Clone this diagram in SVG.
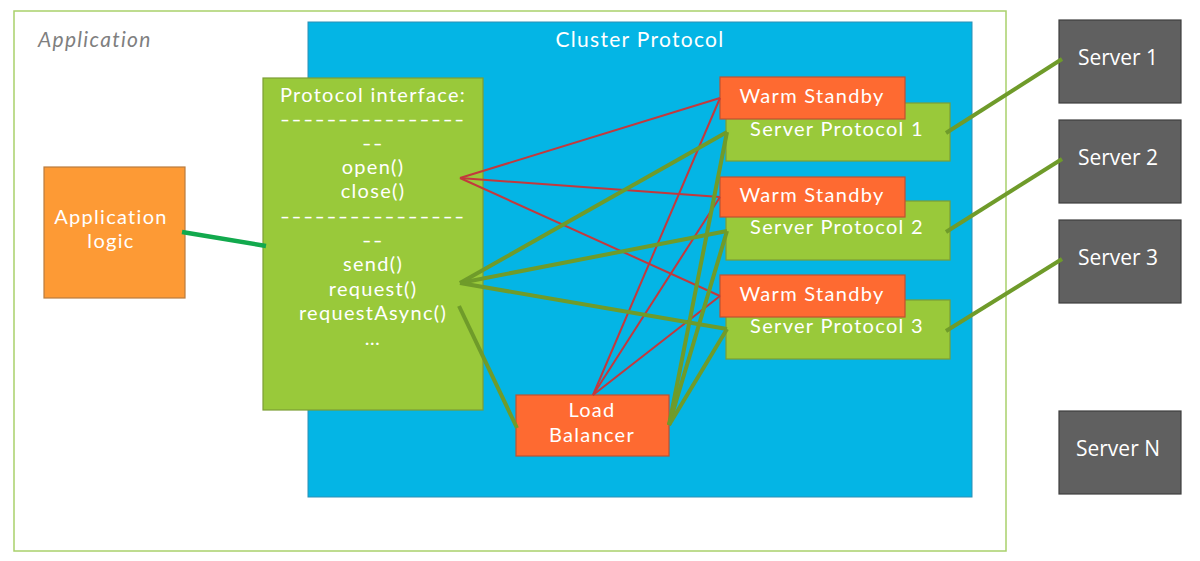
<svg xmlns="http://www.w3.org/2000/svg" width="1200" height="561" viewBox="0 0 1200 561">
<style>
text{font-family:Lato,"Open Sans","Liberation Sans",sans-serif;fill:#ffffff;font-size:20px;letter-spacing:1.3px;text-anchor:middle}
.srv{font-family:"Open Sans","Liberation Sans",sans-serif;font-size:21px;letter-spacing:0}
.app{fill:#ffffff;stroke:#a9d16b;stroke-width:1.5}
.cluster{fill:#04b5e5;stroke:#2c8fb5;stroke-width:1}
.green{fill:#99c93a;stroke:#7c9e35;stroke-width:1.2}
.orange{fill:#fe6a31;stroke:#bd5331;stroke-width:1.2}
.logic{fill:#fd9a35;stroke:#b97c3f;stroke-width:1.2}
.server{fill:#606060;stroke:#3f3f3f;stroke-width:1.2}
.red{stroke:#c3393d;stroke-width:2;fill:none}
.olive{stroke:#6f9b2a;stroke-width:4;fill:none}
</style>
<g id="application">
<rect class="app" x="14" y="11" width="992" height="540"/>
<text x="38" y="47" style="font-style:italic;fill:#7f7f7f;text-anchor:start;font-size:21px">Application</text>
</g>
<g id="cluster-protocol">
<rect class="cluster" x="308" y="22" width="664" height="475"/>
<text x="640" y="47" style="font-size:21px">Cluster Protocol</text>
</g>
<g id="application-logic">
<rect class="logic" x="44" y="167" width="141" height="131"/>
<text x="111" y="224">Application</text>
<text x="111" y="248">logic</text>
</g>
<g id="protocol-interface">
<rect class="green" x="263" y="78" width="220" height="332"/>
<text x="373" y="102">Protocol interface:</text>
<text x="373" y="126" textLength="186" lengthAdjust="spacingAndGlyphs">----------------</text>
<text x="373" y="150" textLength="22" lengthAdjust="spacingAndGlyphs">--</text>
<text x="373" y="174">open()</text>
<text x="373" y="198">close()</text>
<text x="373" y="223" textLength="186" lengthAdjust="spacingAndGlyphs">----------------</text>
<text x="373" y="247" textLength="22" lengthAdjust="spacingAndGlyphs">--</text>
<text x="373" y="271">send()</text>
<text x="373" y="296">request()</text>
<text x="373" y="320">requestAsync()</text>
<text x="373" y="345">…</text>
</g>
<g id="server-protocol-1">
<rect class="green" x="726" y="103" width="224" height="58"/>
<text x="837" y="136">Server Protocol 1</text>
</g>
<g id="server-protocol-2">
<rect class="green" x="726" y="201" width="224" height="59"/>
<text x="837" y="234">Server Protocol 2</text>
</g>
<g id="server-protocol-3">
<rect class="green" x="726" y="300" width="224" height="59"/>
<text x="837" y="333">Server Protocol 3</text>
</g>
<g id="warm-standby-1">
<rect class="orange" x="720" y="77" width="185" height="42"/>
<text x="812" y="103">Warm Standby</text>
</g>
<g id="warm-standby-2">
<rect class="orange" x="720" y="177" width="185" height="40"/>
<text x="812" y="202">Warm Standby</text>
</g>
<g id="warm-standby-3">
<rect class="orange" x="720" y="275" width="185" height="42"/>
<text x="812" y="301">Warm Standby</text>
</g>
<g id="load-balancer">
<rect class="orange" x="516" y="395" width="153" height="61"/>
<text x="592" y="417">Load</text>
<text x="592" y="442">Balancer</text>
</g>
<g id="server-1">
<rect class="server" x="1059" y="20" width="122" height="83"/>
<text class="srv" x="1118" y="65">Server 1</text>
</g>
<g id="server-2">
<rect class="server" x="1059" y="120" width="122" height="83"/>
<text class="srv" x="1118" y="165">Server 2</text>
</g>
<g id="server-3">
<rect class="server" x="1059" y="220" width="122" height="83"/>
<text class="srv" x="1118" y="265">Server 3</text>
</g>
<g id="server-n">
<rect class="server" x="1059" y="411" width="122" height="83"/>
<text class="srv" x="1118" y="456">Server N</text>
</g>
<g id="connectors">
<line x1="182" y1="232" x2="266" y2="246" style="stroke:#12a94d;stroke-width:4.5"/>
<line class="red" x1="460" y1="178" x2="720" y2="98"/>
<line class="red" x1="460" y1="178" x2="720" y2="197"/>
<line class="red" x1="460" y1="178" x2="720" y2="296"/>
<line class="red" x1="593" y1="395" x2="720" y2="98"/>
<line class="red" x1="593" y1="395" x2="720" y2="197"/>
<line class="red" x1="593" y1="395" x2="720" y2="296"/>
<line class="olive" x1="460" y1="283" x2="727" y2="132"/>
<line class="olive" x1="460" y1="283" x2="727" y2="231"/>
<line class="olive" x1="460" y1="283" x2="727" y2="329"/>
<line class="olive" x1="459" y1="306" x2="517" y2="428"/>
<line class="olive" x1="669" y1="425" x2="727" y2="132"/>
<line class="olive" x1="669" y1="425" x2="727" y2="231"/>
<line class="olive" x1="669" y1="425" x2="727" y2="329"/>
<line class="olive" x1="946" y1="133" x2="1062" y2="59"/>
<line class="olive" x1="946" y1="232" x2="1062" y2="159"/>
<line class="olive" x1="946" y1="331" x2="1062" y2="259"/>
</g>
</svg>
